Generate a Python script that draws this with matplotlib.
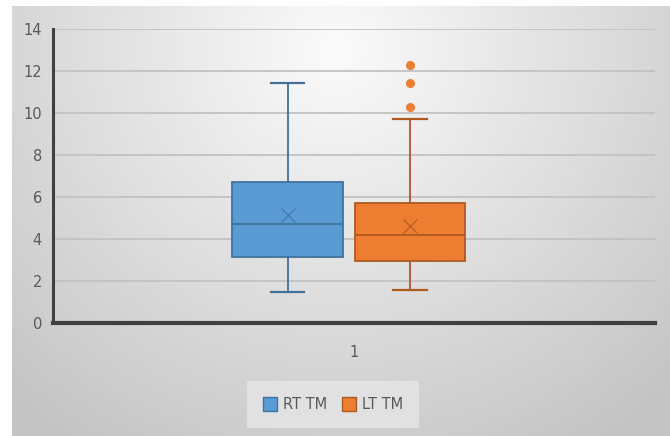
"""Box plot of RT TM vs LT TM drawn in an Excel-like style."""

import matplotlib

matplotlib.use("Agg")
import matplotlib.pyplot as plt
import numpy as np
from matplotlib.patches import Patch

# ── Data ────────────────────────────────────────────────────────────────────
series = ["RT TM", "LT TM"]
q1 = [3.12, 2.97]
median = [4.71, 4.19]
q3 = [6.71, 5.70]
mean = [5.12, 4.62]
whisker_low = [1.49, 1.57]
whisker_high = [11.42, 9.71]
outliers = [[], [10.28, 11.42, 12.29]]
category = ["1"]

fill_colors = ["#5b9bd5", "#ed7d31"]
edge_colors = ["#41719c", "#ae5a21"]

plt.rcParams["font.family"] = ["Liberation Sans Narrow", "DejaVu Sans Condensed", "DejaVu Sans"]

W, H = 670, 436
fig = plt.figure(figsize=(W / 100, H / 100), dpi=100)

# ── Gradient background (radial, light at top centre) ───────────────────────
bg = fig.add_axes([0, 0, 1, 1], zorder=-10)
yy, xx = np.mgrid[0:H, 0:W]
dist = np.sqrt(((xx - 335) / 540.0) ** 2 + ((yy - 50) / 520.0) ** 2)
shade = np.clip(0.985 - 0.24 * dist, 0.77, 1.0)
img = np.dstack([shade, shade, shade])
# white margin round the chart area
img[:7, :, :] = 1.0
img[:, :12, :] = 1.0
bg.imshow(img, extent=[0, W, H, 0], aspect="auto", interpolation="bilinear")
bg.set_xlim(0, W)
bg.set_ylim(H, 0)
bg.axis("off")

# ── Plot area ───────────────────────────────────────────────────────────────
ax = fig.add_axes([53 / W, 113 / H, 602 / W, 294 / H])
ax.patch.set_alpha(0)

positions = [0.89, 1.093]
stats = []
for i in range(len(series)):
    stats.append(dict(
        label=series[i], q1=q1[i], med=median[i], q3=q3[i], mean=mean[i],
        whislo=whisker_low[i], whishi=whisker_high[i], fliers=outliers[i],
    ))

for i, st in enumerate(stats):
    ax.bxp(
        [st], positions=[positions[i]], widths=0.184, capwidths=0.055,
        patch_artist=True, showmeans=True, manage_ticks=False,
        boxprops=dict(facecolor=fill_colors[i], edgecolor=edge_colors[i], linewidth=1.3),
        medianprops=dict(color=edge_colors[i], linewidth=1.3),
        whiskerprops=dict(color=edge_colors[i], linewidth=1.3),
        capprops=dict(color=edge_colors[i], linewidth=1.6),
        meanprops=dict(marker="x", markeredgecolor=edge_colors[i], markersize=10,
                       markeredgewidth=1.0, alpha=0.8),
        flierprops=dict(marker="o", markerfacecolor=fill_colors[i],
                        markeredgecolor=fill_colors[i], markersize=5.5),
        zorder=3,
    )

ax.set_xlim(0.5, 1.5)
ax.set_ylim(0, 14)
ax.set_yticks(np.arange(0, 15, 2))
ax.set_xticks([1])
ax.set_xticklabels(category)
ax.yaxis.grid(True, color="#c2c2c2", linewidth=1.3, zorder=0)
ax.set_axisbelow(True)

for side in ("top", "right"):
    ax.spines[side].set_visible(False)
ax.spines["left"].set_color("#404040")
ax.spines["left"].set_linewidth(2.2)
ax.spines["bottom"].set_color("#404040")
ax.spines["bottom"].set_linewidth(3)

ax.tick_params(axis="both", length=0, labelsize=10.5, labelcolor="#595959")
ax.tick_params(axis="y", pad=8)
ax.tick_params(axis="x", pad=16)

# ── Legend ──────────────────────────────────────────────────────────────────
handles = [Patch(facecolor=fill_colors[i], edgecolor=edge_colors[i], label=series[i])
           for i in range(len(series))]
leg = fig.legend(
    handles=handles, loc="center", bbox_to_anchor=(333 / W, 1 - 404.5 / H),
    ncol=2, frameon=True, fontsize=10.5, handlelength=1.0, handleheight=1.0,
    handletextpad=0.4, columnspacing=1.0, borderpad=1.1,
    labelcolor="#595959",
)
leg.get_frame().set_facecolor("#e6e6e6")
leg.get_frame().set_edgecolor("none")
leg.get_frame().set_boxstyle("square", pad=0)

fig.savefig("out.png", dpi=100)
